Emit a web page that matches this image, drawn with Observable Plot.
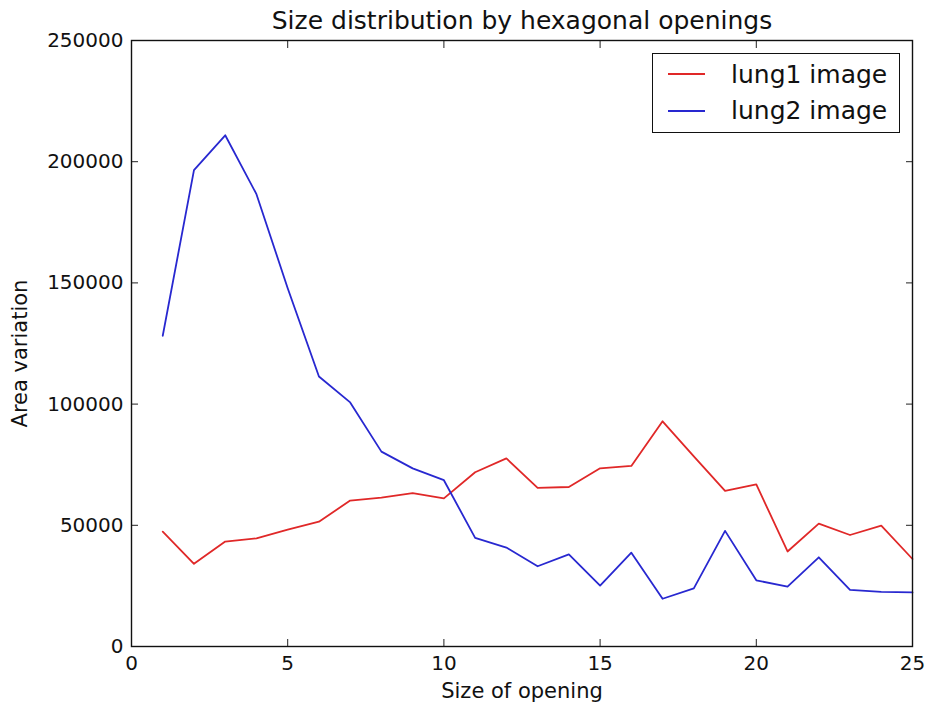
<!DOCTYPE html>
<html>
<head>
<meta charset="utf-8">
<script src="https://cdn.jsdelivr.net/npm/d3@7"></script>
<script src="https://cdn.jsdelivr.net/npm/@observablehq/plot@0.6"></script>
<style>
  html, body { margin: 0; padding: 0; background: #fff; }
  #chart { width: 926px; height: 706px; position: relative; }
  #chart svg text { font-family: "DejaVu Sans", sans-serif; }
  #legend {
    position: absolute; left: 652px; top: 53px; width: 246px; height: 78px;
    border: 1.4px solid #111; background: #fff;
    font-family: "DejaVu Sans", sans-serif; font-size: 25px; color: #111;
  }
  .lrow { position: absolute; left: 0; height: 36px; display: flex; align-items: center; }
  .lrow svg { margin-left: 15px; margin-right: 26px; }
</style>
</head>
<body>
<div id="chart"></div>
<script>
// --- data ---
const sizes = [1,2,3,4,5,6,7,8,9,10,11,12,13,14,15,16,17,18,19,20,21,22,23,24,25];
const lung1 = [47400,34100,43300,44600,48200,51500,60200,61400,63300,61100,71900,77600,65400,65800,73500,74500,92900,78400,64200,66900,39200,50700,46000,49900,36100];
const lung2 = [128200,196500,210900,186600,147800,111400,100700,80400,73500,68600,44800,40800,33100,38000,25100,38700,19700,24000,47700,27300,24700,36800,23400,22500,22300];
const seriesNames = ["lung1 image", "lung2 image"];
const seriesColors = ["#e02828", "#2828d0"];
const xTicks = [0,5,10,15,20,25];
const yTicks = [0,50000,100000,150000,200000,250000];
const title = "Size distribution by hexagonal openings";
const xLabel = "Size of opening";
const yLabel = "Area variation";

const rows = [];
sizes.forEach((s, i) => {
  rows.push({size: s, value: lung1[i], series: seriesNames[0]});
  rows.push({size: s, value: lung2[i], series: seriesNames[1]});
});

const fmt = d3.format("d");

const plot = Plot.plot({
  width: 926,
  height: 706,
  marginLeft: 131,
  marginRight: 14,
  marginTop: 40,
  marginBottom: 60,
  style: {fontFamily: "DejaVu Sans, sans-serif", background: "white", overflow: "visible"},
  x: {domain: [0, 25]},
  y: {domain: [0, 250000]},
  color: {domain: seriesNames, range: seriesColors},
  marks: [
    Plot.line(rows, {x: "size", y: "value", z: "series", stroke: "series", strokeWidth: 1.8}),
    // inward ticks on all four sides
    Plot.axisX(xTicks, {anchor: "bottom", label: null, tickSize: -7, tickPadding: 16, tickFormat: fmt, fontSize: 20, stroke: "#222", color: "#111"}),
    Plot.axisX(xTicks, {anchor: "top", label: null, tickSize: -7, tickFormat: () => "", stroke: "#222"}),
    Plot.axisY(yTicks, {anchor: "left", label: null, tickSize: -7, tickPadding: 15, tickFormat: fmt, fontSize: 20, stroke: "#222", color: "#111"}),
    Plot.axisY(yTicks, {anchor: "right", label: null, tickSize: -7, tickFormat: () => "", stroke: "#222"}),
    Plot.frame({stroke: "#111", strokeWidth: 1.4}),
    // title and axis labels
    Plot.text([title], {frameAnchor: "top", dy: -20, fontSize: 25, fill: "#111", lineAnchor: "middle"}),
    Plot.text([xLabel], {frameAnchor: "bottom", dy: 45, fontSize: 21, fill: "#111", lineAnchor: "middle"}),
    Plot.text([yLabel], {frameAnchor: "left", textAnchor: "middle", dx: -111, dy: 10, rotate: -90, fontSize: 21, fill: "#111", lineAnchor: "middle"})
  ]
});

const wrap = document.getElementById("chart");
wrap.appendChild(plot);

// legend (HTML overlay, upper right of the frame)
const legend = document.createElement("div");
legend.id = "legend";
seriesNames.forEach((name, i) => {
  const row = document.createElement("div");
  row.className = "lrow";
  row.style.top = (2 + i * 36.5) + "px";
  row.innerHTML = `<svg width="37" height="4"><line x1="0" x2="37" y1="2" y2="2" stroke="${seriesColors[i]}" stroke-width="1.8"/></svg><span>${name}</span>`;
  legend.appendChild(row);
});
wrap.appendChild(legend);
</script>
</body>
</html>
